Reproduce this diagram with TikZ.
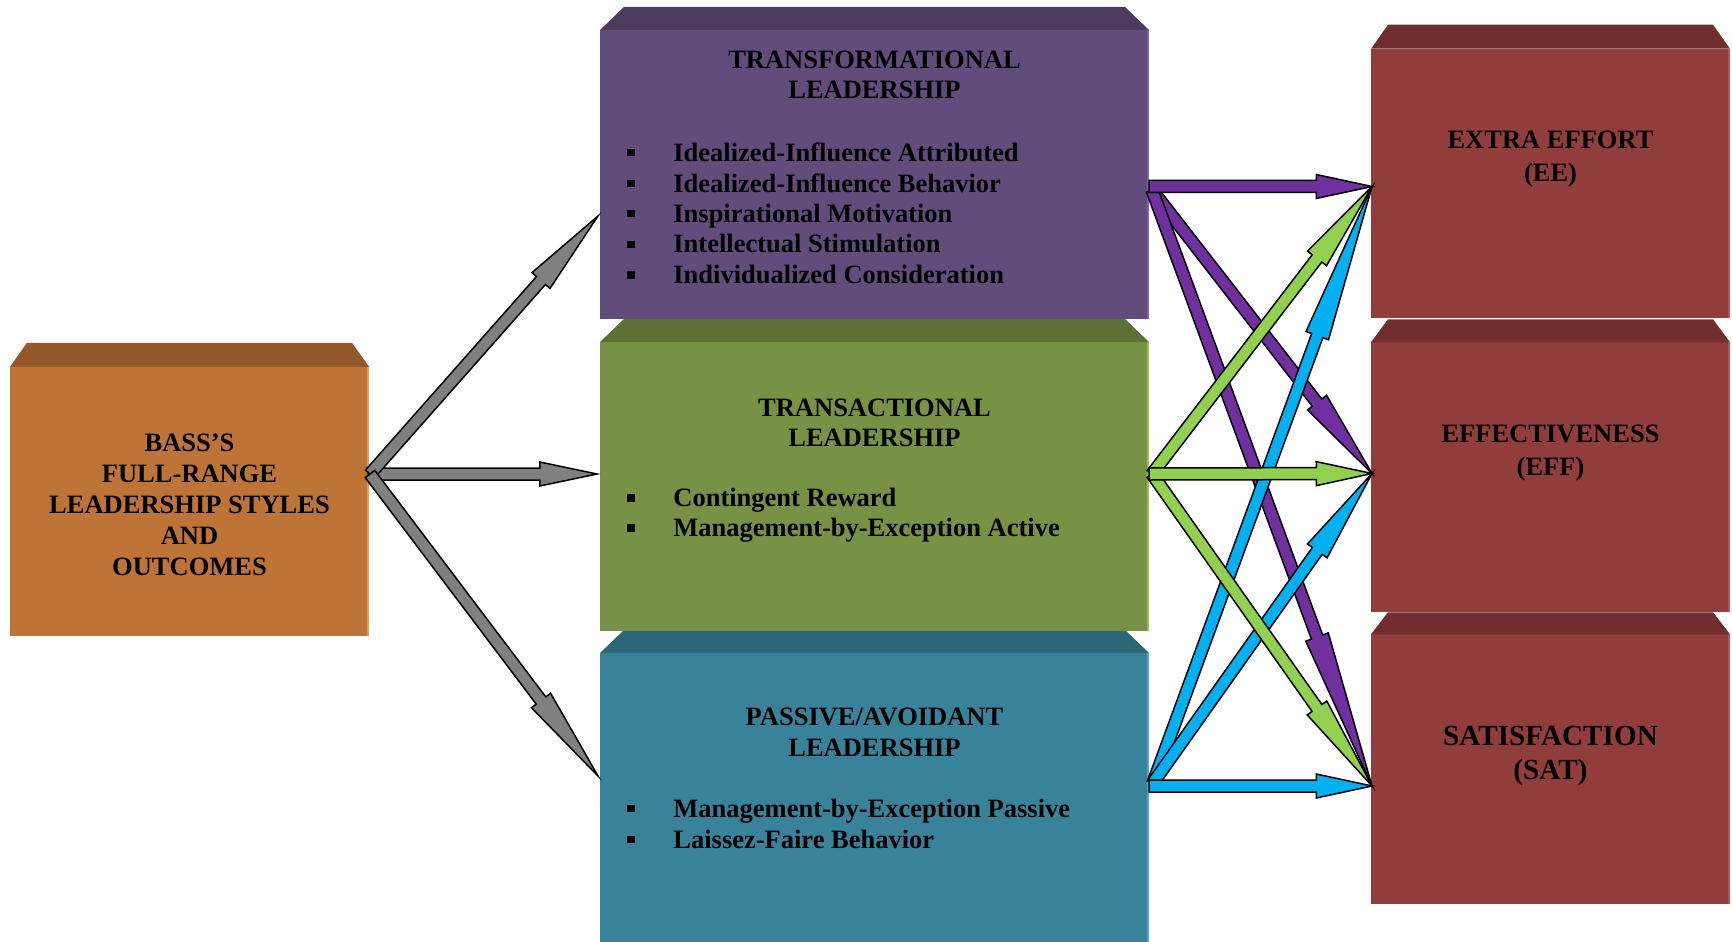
\documentclass[tikz,border=0pt]{standalone}
\usepackage{fontspec}
\setmainfont{Liberation Serif}
\usetikzlibrary{calc}
\definecolor{orF}{HTML}{BD7436}\definecolor{orT}{HTML}{93592B}\definecolor{orE}{HTML}{E79A55}
\definecolor{puF}{HTML}{614C7C}\definecolor{puT}{HTML}{4A3B5F}\definecolor{puE}{HTML}{7E65A0}
\definecolor{grF}{HTML}{779244}\definecolor{grT}{HTML}{5D7136}\definecolor{grE}{HTML}{9BBB59}
\definecolor{blF}{HTML}{39839A}\definecolor{blT}{HTML}{2D6676}\definecolor{blE}{HTML}{4BACC6}
\definecolor{rdF}{HTML}{913D3B}\definecolor{rdT}{HTML}{722E2E}\definecolor{rdE}{HTML}{B55553}
\definecolor{aPu}{HTML}{7030A0}\definecolor{aGr}{HTML}{92D050}\definecolor{aBl}{HTML}{00B0F0}\definecolor{aGy}{HTML}{808080}
\def\arrSW{3pt}
\def\arrHW{6pt}
\newcommand\blockarr[3]{%
  \coordinate (hb) at ($(#1)!0.75!(#2)$);
  \draw[arrowline, fill=#3] ($(#1)!\arrSW!90:(#2)$) -- ($(hb)!\arrSW!90:(#2)$) -- ($(hb)!\arrHW!90:(#2)$) -- (#2) -- ($(hb)!\arrHW!-90:(#2)$) -- ($(hb)!\arrSW!-90:(#2)$) -- ($(#1)!\arrSW!-90:(#2)$) -- cycle;}
\newcommand\cubetop[5]{%
  \fill[#4] (#1.north west) -- ([xshift=#2,yshift=#3]#1.north west) -- ([xshift=-#2,yshift=#3]#1.north east) -- (#1.north east) -- cycle;
  \draw[#5, line width=1pt] ([xshift=-0.5pt]#1.north east) -- ([xshift=-0.5pt]#1.south east);}
\begin{document}
\begin{tikzpicture}[x=0.5pt,y=-0.5pt,
  face/.style={inner sep=0pt, outer sep=0pt, draw=none},
  sidebox/.style={face, minimum width=179.5pt, minimum height=134.75pt},
  midbox/.style={face, minimum width=274.5pt, minimum height=144.5pt},
  lbl/.style={font=\bfseries\fontsize{13.25}{15.5}\selectfont, inner sep=0pt, anchor=base},
  item/.style={lbl, anchor=base west},
  satlbl/.style={font=\bfseries\fontsize{14.6}{17}\selectfont, inner sep=0pt, anchor=base},
  bul/.style={fill=black, inner sep=0pt, minimum size=3.6pt},
  arrowline/.style={draw=black, line width=0.75pt, line join=miter}]
\useasboundingbox (0,0) rectangle (1732,941);
% ---------- boxes (drawn bottom-up) ----------
\node[sidebox, fill=orF] (bass) at (189.5,501.5) {};
\cubetop{bass}{8.5pt}{12pt}{orT}{orE}
\node[midbox, fill=blF] (pas) at (874.5,797.5) {};
\cubetop{pas}{12pt}{11.5pt}{blT}{blE}
\node[midbox, fill=grF] (tac) at (874.5,486.5) {};
\cubetop{tac}{12pt}{11.5pt}{grT}{grE}
\node[midbox, fill=puF] (tfm) at (874.5,174.5) {};
\cubetop{tfm}{12pt}{11.5pt}{puT}{puE}
\node[sidebox, fill=rdF] (sat) at (1550.5,769) {};
\cubetop{sat}{8.5pt}{11pt}{rdT}{rdE}
\node[sidebox, fill=rdF] (eff) at (1550.5,477) {};
\cubetop{eff}{8.5pt}{11.5pt}{rdT}{rdE}
\node[sidebox, fill=rdF] (ee) at (1550.5,183.5) {};
\cubetop{ee}{8.5pt}{12pt}{rdT}{rdE}
% ---------- texts ----------
\node[lbl] (b1) at (189.5,451) {BASS’S};
\node[lbl] (b2) at (189.5,482) {FULL-RANGE};
\node[lbl] (b3) at (189.5,513) {LEADERSHIP STYLES};
\node[lbl] (b4) at (189.5,544) {AND};
\node[lbl] (b5) at (189.5,575) {OUTCOMES};
\node[lbl] (t1) at (874.5,69) {TRANSFORMATIONAL};
\node[lbl] (t2) at (874.5,99) {LEADERSHIP};
\foreach \yy/\tx [count=\i] in {152.4/Idealized-Influence Attributed,183.4/Idealized-Influence Behavior,213.2/Inspirational Motivation,244.1/Intellectual Stimulation,275/Individualized Consideration}{
  \node[bul] (tb\i) at (631,\yy) {};
  \node[item] (ti\i) at (673,\yy+8.8) {\tx};
}
\node[lbl] (c1) at (874.5,416) {TRANSACTIONAL};
\node[lbl] (c2) at (874.5,446) {LEADERSHIP};
\foreach \yy/\tx [count=\i] in {498/Contingent Reward,528/Management-by-Exception Active}{
  \node[bul] (cb\i) at (631,\yy) {};
  \node[item] (ci\i) at (673,\yy+8.8) {\tx};
}
\node[lbl] (p1) at (874.5,725) {PASSIVE/AVOIDANT};
\node[lbl] (p2) at (874.5,756) {LEADERSHIP};
\foreach \yy/\tx [count=\i] in {808.5/Management-by-Exception Passive,839.5/Laissez-Faire Behavior}{
  \node[bul] (pb\i) at (631,\yy) {};
  \node[item] (pi\i) at (673,\yy+8.8) {\tx};
}
\node[lbl] (e1) at (1550.5,149) {EXTRA EFFORT};
\node[lbl] (e2) at (1550.5,182) {(EE)};
\node[lbl] (f1) at (1550.5,442) {EFFECTIVENESS};
\node[lbl] (f2) at (1550.5,475) {(EFF)};
\node[satlbl] (s1) at (1550.5,745) {SATISFACTION};
\node[satlbl] (s2) at (1550.5,779) {(SAT)};
% ---------- arrow end points ----------
\coordinate (gO) at (368,474);
\coordinate (gOd) at (370,474);
\coordinate (gTp) at (598,216);
\coordinate (gTc) at (597,474);
\coordinate (gTb) at (598,776);
\coordinate (puH) at (1149,186.5);
\coordinate (puD) at (1152,190);
\coordinate (grH) at (1149,474);
\coordinate (grD) at (1152,474);
\coordinate (blH) at (1149,786);
\coordinate (blD) at (1153,783);
\coordinate (eeT) at (1372,186.5);
\coordinate (effT) at (1372,473.5);
\coordinate (satT) at (1372,786);
% ---------- arrows ----------
\blockarr{gO}{gTc}{aGy}
\blockarr{gOd}{gTp}{aGy}
\blockarr{gOd}{gTb}{aGy}
\blockarr{puD}{effT}{aPu}
\blockarr{puD}{satT}{aPu}
\blockarr{puH}{eeT}{aPu}
\blockarr{blD}{eeT}{aBl}
\blockarr{blD}{effT}{aBl}
\blockarr{blH}{satT}{aBl}
\blockarr{grD}{eeT}{aGr}
\blockarr{grD}{satT}{aGr}
\blockarr{grH}{effT}{aGr}
\end{tikzpicture}
\end{document}
